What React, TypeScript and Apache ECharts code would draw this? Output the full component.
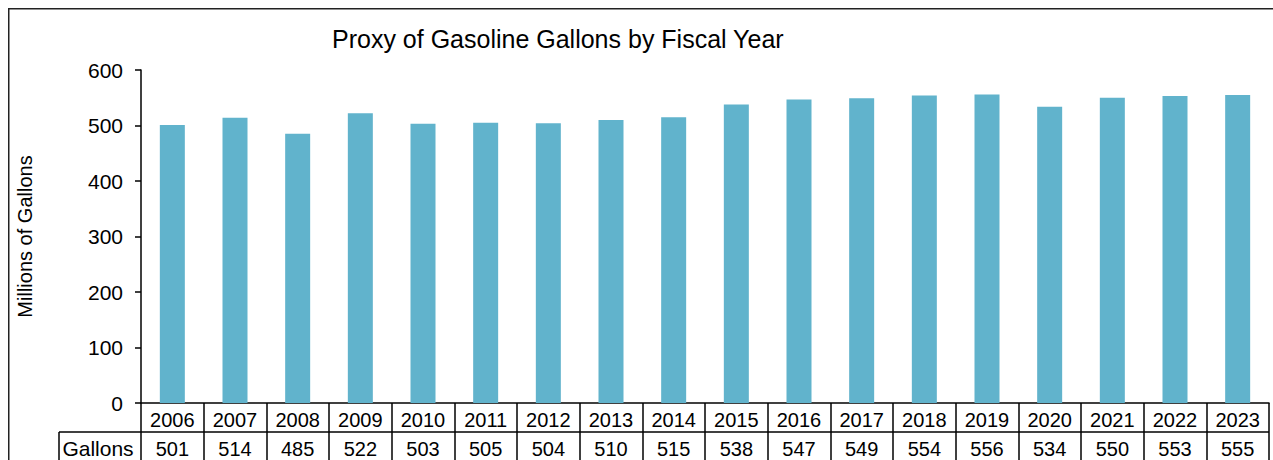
import React, { useEffect, useRef } from "react";
import * as echarts from "echarts";

const years = ["2006","2007","2008","2009","2010","2011","2012","2013","2014","2015","2016","2017","2018","2019","2020","2021","2022","2023"];
const gallons = [501,514,485,522,503,505,504,510,515,538,547,549,554,556,534,550,553,555];
const yTicks = { min: 0, max: 600, interval: 100 };
const titleText = "Proxy of Gasoline Gallons by Fiscal Year";
const yName = "Millions of Gallons";
const rowName = "Gallons";

const FONT = "'Liberation Sans', Arial, sans-serif";
const BAR = "#61b3cc";

export default function App() {
  const ref = useRef<HTMLDivElement>(null);
  useEffect(() => {
    if (!ref.current) return;
    const chart = echarts.init(ref.current, null, { renderer: "svg" });
    const gridLeft = 141, gridRight = 4, gridTop = 70, gridBottom = 57;
    const W = 1273, H = 460;
    const axisY = H - gridBottom;
    chart.setOption({
      animation: false,
      backgroundColor: "#fff",
      textStyle: { fontFamily: FONT },
      title: {
        text: titleText,
        left: 327,
        top: 21,
        textStyle: { fontFamily: FONT, fontSize: 25, fontWeight: "normal", color: "#000" },
      },
      grid: {
        left: gridLeft,
        right: gridRight,
        top: gridTop,
        bottom: gridBottom,
        containLabel: false,
        outerBoundsMode: "none",
      },
      xAxis: {
        type: "category",
        data: years,
        axisLine: { show: true, lineStyle: { color: "#000", width: 1.5 } },
        axisTick: { show: true, alignWithLabel: false, length: 57, lineStyle: { color: "#000", width: 1.5 } },
        axisLabel: {
          interval: 0,
          margin: 2,
          fontFamily: FONT,
          fontSize: 20,
          color: "#000",
          lineHeight: 29,
          hideOverlap: false,
          formatter: (v: string, i: number) => `${v}\n${gallons[i]}`,
        },
        splitLine: { show: false },
      },
      yAxis: {
        type: "value",
        min: yTicks.min,
        max: yTicks.max,
        interval: yTicks.interval,
        name: yName,
        nameLocation: "middle",
        nameRotate: 90,
        nameGap: 106,
        nameTextStyle: { fontFamily: FONT, fontSize: 20, color: "#000" },
        axisLine: { show: true, lineStyle: { color: "#000", width: 1.5 } },
        axisTick: { show: true, length: 6, lineStyle: { color: "#000", width: 1.5 } },
        axisLabel: { margin: 18, fontFamily: FONT, fontSize: 21, color: "#000" },
        splitLine: { show: false },
      },
      series: [
        {
          type: "bar",
          data: gallons,
          barWidth: 25,
          itemStyle: { color: BAR },
        },
      ],
      graphic: [
        { type: "line", shape: { x1: 8.75, y1: 8, x2: 8.75, y2: H }, style: { stroke: "#222", lineWidth: 1.5 } },
        { type: "line", shape: { x1: 8, y1: 8.75, x2: W, y2: 8.75 }, style: { stroke: "#222", lineWidth: 1.5 } },
        { type: "line", shape: { x1: 59, y1: axisY + 29, x2: W - gridRight, y2: axisY + 29 }, style: { stroke: "#000", lineWidth: 1.5 } },
        { type: "line", shape: { x1: 59, y1: axisY + 29, x2: 59, y2: H }, style: { stroke: "#000", lineWidth: 1.5 } },
        {
          type: "text",
          x: 98,
          y: axisY + 45,
          style: { text: rowName, font: `21px ${FONT}`, fill: "#000", textAlign: "center", textVerticalAlign: "middle" },
        },
      ],
    });
    return () => chart.dispose();
  }, []);
  return (
    <div
      ref={ref}
      style={{ position: "fixed", left: 0, top: 0, width: 1273, height: 460, overflow: "hidden" }}
    />
  );
}
